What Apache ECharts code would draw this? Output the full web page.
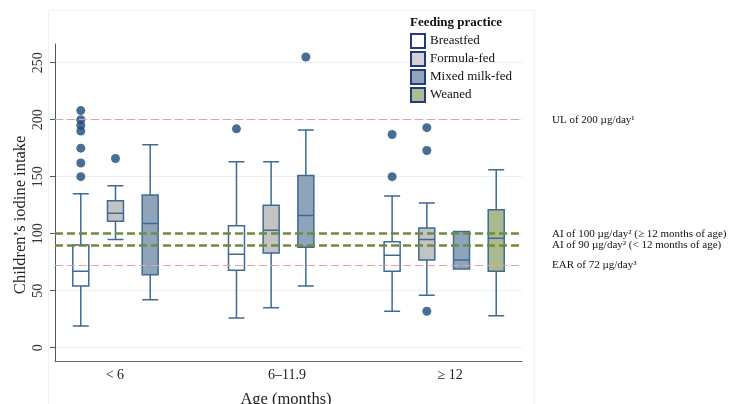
<!DOCTYPE html>
<html>
<head>
<meta charset="utf-8">
<script src="https://cdn.jsdelivr.net/npm/echarts@6/dist/echarts.min.js"></script>
<style>html,body{margin:0;padding:0;background:#fff}#c{width:738px;height:404px}</style>
</head>
<body>
<div id="c"></div>
<script>
// ---- data ----
const ageGroups = ['< 6', '6–11.9', '≥ 12'];
const feeding = ['Breastfed', 'Formula-fed', 'Mixed milk-fed', 'Weaned'];
// [min, Q1, median, Q3, max] per age group (null = group absent)
const breastfedBox = [[19, 54, 67, 90, 135], [26, 68, 82, 107, 163], [32, 67, 81, 93, 133]];
const formulaBox   = [[95, 111, 118, 129, 142], [35, 83, 103, 125, 163], [46, 77, 95, 105, 127]];
const mixedBox     = [[42, 64, 109, 134, 178], [54, 88, 116, 151, 191], [69, 69, 77, 102, 102]];
const weanedBox    = [null, null, [28, 67, 96, 121, 156]];
// outliers: [age group index, value]
const breastfedOut = [[0, 208], [0, 200], [0, 195], [0, 190], [0, 175], [0, 162], [0, 150], [1, 192], [2, 187], [2, 150]];
const formulaOut   = [[0, 166], [2, 193], [2, 173], [2, 32]];
const mixedOut     = [[1, 255]];
const weanedOut    = [];
const yTicks = [0, 50, 100, 150, 200, 250];
const refValues = [200, 100, 90, 72];
const refLabels = ['UL of 200 µg/day¹', 'AI of 100 µg/day² (≥ 12 months of age)', 'AI of 90 µg/day² (< 12 months of age)', 'EAR of 72 µg/day³'];

// ---- styles ----
const SERIF = 'Liberation Serif, Times New Roman, serif';
const fills = ['#ffffff', '#c3c3c3', '#8da4bb', '#a9ba8d'];
const legendFills = ['#ffffff', '#d2d2d2', '#8fa6bd', '#abbd93'];
const boxStroke = '#3f6a95';
const outColor = '#1c4a78';
const refColors = ['#e8a0ae', '#6f8b3e', '#6f8b3e', '#e8a0ae'];
const refWidths = [1, 2.5, 2.5, 1];
const refPad = [[0, 0, 2, 0], [5, 0, 0, 0], [1, 0, 0, 0], [0, 0, 1, 0]];

const boxes = [breastfedBox, formulaBox, mixedBox, weanedBox];
const outs = [breastfedOut, formulaOut, mixedOut, weanedOut];
const slotStep = 0.2229;
const xPos = (g, s) => g + (s - 1.5) * slotStep;

const chart = echarts.init(document.getElementById('c'), null, {renderer: 'canvas'});

const xAxes = [{
  type: 'category', data: ageGroups, gridIndex: 0, boundaryGap: true,
  axisLine: {onZero: false, lineStyle: {color: '#666', width: 1}},
  axisTick: {show: false},
  axisLabel: {
    margin: 7,
    formatter: (v, i) => '{s' + i + '|' + v + '}',
    rich: {
      s0: {fontFamily: SERIF, fontSize: 14, color: '#222', padding: [0, 36, 0, 0]},
      s1: {fontFamily: SERIF, fontSize: 14, color: '#222', padding: [0, 3, 0, 0]},
      s2: {fontFamily: SERIF, fontSize: 14, color: '#222', padding: [0, 0, 0, 12]}
    }
  },
  splitLine: {show: false},
  name: 'Age (months)', nameLocation: 'middle', nameGap: 29, nameMoveOverlap: false,
  nameTextStyle: {fontFamily: SERIF, fontSize: 16.5, color: '#222', padding: [0, 5, 0, 0]}
}];
for (let s = 0; s < 4; s++) {
  xAxes.push({type: 'value', gridIndex: 0, min: -0.5, max: 2.5, show: false, axisLine: {onZero: false}});
}

const series = [{
  type: 'line', xAxisIndex: 0, data: [], z: 1, silent: true,
  markLine: {
    silent: true, symbol: ['none', 'none'], animation: false,
    data: refValues.map((v, i) => ({
      yAxis: v,
      lineStyle: {color: refColors[i], width: refWidths[i], type: [8, 4], opacity: 1},
      label: {
        show: true, position: 'end', distance: 30, formatter: refLabels[i],
        fontFamily: SERIF, fontSize: 11, color: '#111', padding: refPad[i]
      }
    }))
  }
}];

feeding.forEach((name, s) => {
  const data = [];
  boxes[s].forEach((b, g) => { if (b) data.push([xPos(g, s)].concat(b)); });
  series.push({
    name: name, type: 'boxplot', xAxisIndex: s + 1, z: 3,
    boxWidth: [16, 16],
    itemStyle: {color: fills[s], borderColor: boxStroke, borderWidth: 1.5},
    emphasis: {disabled: true},
    data: data
  });
});
feeding.forEach((name, s) => {
  series.push({
    name: name + ' outliers', type: 'scatter', xAxisIndex: s + 1, z: 4,
    symbol: 'circle', symbolSize: 9,
    itemStyle: {color: outColor},
    data: outs[s].map(o => [xPos(o[0], s), o[1]])
  });
});

chart.setOption({
  animation: false,
  backgroundColor: '#ffffff',
  grid: {left: 55, right: 216, top: 44, bottom: 42.3, containLabel: false, outerBoundsMode: 'none'},
  title: {
    text: 'Feeding practice', left: 410, top: 16, padding: 0,
    textStyle: {fontFamily: SERIF, fontSize: 13, fontWeight: 'bold', color: '#111'}
  },
  legend: {
    orient: 'vertical', left: 410, top: 33, padding: 0,
    itemWidth: 14, itemHeight: 14, itemGap: 2,
    icon: 'rect',
    textStyle: {fontFamily: SERIF, fontSize: 13, color: '#111', lineHeight: 14},
    data: feeding.map((n, i) => ({
      name: n,
      itemStyle: {color: legendFills[i], borderColor: '#26397a', borderWidth: 2}
    }))
  },
  xAxis: xAxes,
  yAxis: {
    type: 'value', min: -12.3, max: 266.4,
    axisLine: {show: true, onZero: false, lineStyle: {color: '#555', width: 1}},
    axisTick: {show: true, length: 5, customValues: yTicks, lineStyle: {color: '#555'}},
    axisLabel: {customValues: yTicks, rotate: 90, margin: 10, fontFamily: SERIF, fontSize: 14, color: '#333'},
    splitLine: {show: true, lineStyle: {color: '#e9f0f3', width: 1}},
    name: 'Children’s iodine intake', nameLocation: 'middle', nameGap: 26, nameRotate: 90,
    nameMoveOverlap: false,
    nameTextStyle: {fontFamily: SERIF, fontSize: 16.5, color: '#222', padding: [0, 24, 0, 0]}
  },
  graphic: [{
    type: 'rect', silent: true, z: -1,
    shape: {x: 48.5, y: 10.5, width: 486, height: 400},
    style: {fill: 'none', stroke: '#eef3f6', lineWidth: 1}
  }],
  series: series
});
</script>
</body>
</html>
